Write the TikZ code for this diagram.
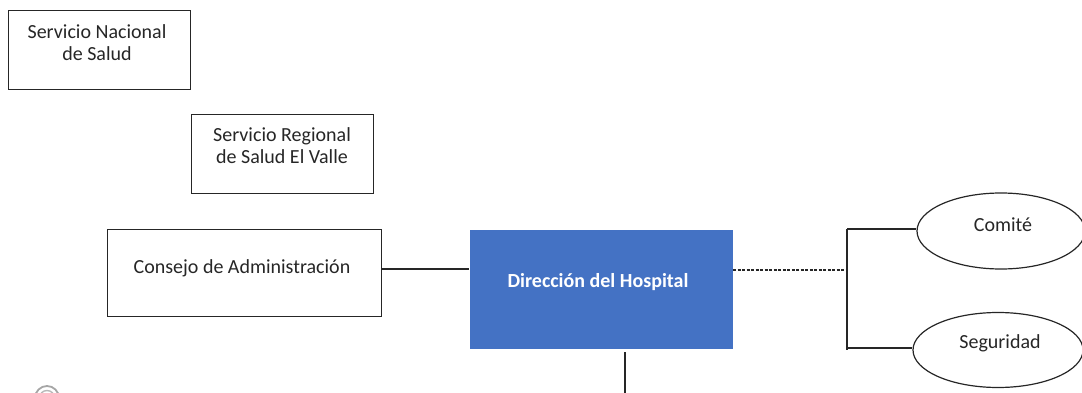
\documentclass[tikz,border=0pt]{standalone}
\usepackage{fontspec}
\setmainfont{Carlito}
\usetikzlibrary{shapes.geometric}
\definecolor{boxblue}{HTML}{4472C4}
\definecolor{edge}{HTML}{262626}
\tikzset{
  px/.style={x=1pt,y=-1pt},
  orgbox/.style={draw=edge,line width=1.2pt,rectangle,inner sep=0pt,anchor=north west},
  lbl/.style={font=\fontsize{20}{22}\selectfont,align=center,text=black!85,inner sep=0pt},
  oval/.style={draw=edge,line width=1.2pt,ellipse,inner sep=0pt},
  conn/.style={draw=edge,line width=1.2pt},
}
\begin{document}
\begin{tikzpicture}[px]
\useasboundingbox (0,0) rectangle (1082,393);
\clip (0,0) rectangle (1082,393);
% boxes
\node[orgbox,minimum width=182pt,minimum height=79pt] (nac) at (8,10) {};
\node[lbl] (nact) at (97,43) {Servicio Nacional\\de Salud};
\node[orgbox,minimum width=182pt,minimum height=79pt] (reg) at (191,114) {};
\node[lbl] (regt) at (282,146) {Servicio Regional\\de Salud El Valle};
\node[orgbox,minimum width=274pt,minimum height=87pt] (con) at (107,229) {};
\node[lbl] (cont) at (242,268) {Consejo de Administración};
\node[orgbox,draw=none,fill=boxblue,minimum width=263pt,minimum height=119pt] (dir) at (469,229) {};
\node[lbl,text=white,font=\fontsize{20}{22}\selectfont\bfseries] (dirt) at (598,282) {Dirección del Hospital};
% ellipses
\node[oval,minimum width=168pt,minimum height=76pt] (com) at (1001,231) {};
\node[lbl] (comt) at (1003,225) {Comité};
\node[oval,minimum width=170pt,minimum height=75pt] (seg) at (998,350) {};
\node[lbl] (segt) at (1000,343) {Seguridad};
% connectors
\coordinate (cj) at (847,270);
\coordinate (ctop) at (847,229);
\coordinate (cbot) at (847,350);
\coordinate (down) at (625,393);
\draw[conn] (con.east |- 0,269) -- (dir.west |- 0,269);
\draw[conn,dashed,dash pattern=on 3pt off 1.5pt] (dir.east |- cj) -- (cj);
\draw[conn] (ctop) -- (cbot);
\draw[conn] (ctop) -- (com.west |- ctop);
\draw[conn] (847,348) -- (seg.west |- 0,348);
\draw[conn] (625,352) -- (down);
% small grey icon fragment
\node[circle,draw=gray!70,line width=1.8pt,minimum size=24pt,inner sep=0pt] (ico) at (47,398) {};
\node[circle,draw=gray!55,line width=1.4pt,minimum size=15pt,inner sep=0pt] (ico2) at (47,398) {};
\end{tikzpicture}
\end{document}
